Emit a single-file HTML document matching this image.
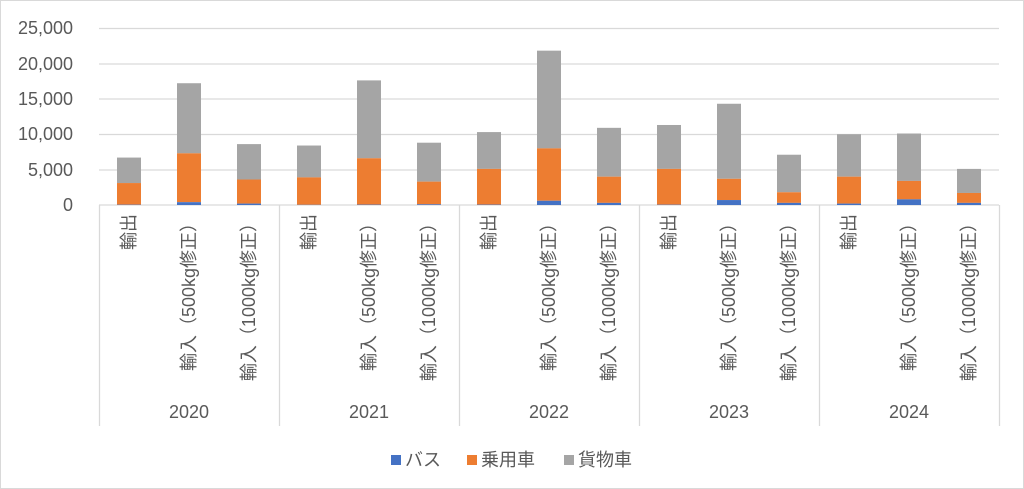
<!DOCTYPE html>
<html><head><meta charset="utf-8"><style>
body{margin:0;background:#fff;}
#c{position:relative;width:1024px;height:489px;border:1px solid #d9d9d9;box-sizing:border-box;overflow:hidden;font-family:"Liberation Sans","Noto Sans CJK JP",sans-serif;color:#595959;}
.yl{position:absolute;right:950px;font-size:18px;line-height:20px;text-align:right;}
.yr{position:absolute;top:401px;font-size:18px;width:180px;text-align:center;}
.lg{position:absolute;top:445px;font-size:18px;}
.sw{display:inline-block;width:10px;height:10px;margin-right:4px;vertical-align:1px;}
svg text{font-family:"Liberation Sans","Noto Sans CJK JP",sans-serif;fill:#595959;font-size:18px;}
</style></head><body><div id="c">
<svg width="1024" height="489" style="position:absolute;left:0;top:0">
<g stroke="#d9d9d9" stroke-width="1.3">
<line x1="98" x2="998" y1="27.5" y2="27.5"/><line x1="98" x2="998" y1="63" y2="63"/><line x1="98" x2="998" y1="98" y2="98"/><line x1="98" x2="998" y1="133.5" y2="133.5"/><line x1="98" x2="998" y1="169" y2="169"/><line x1="98" x2="998" y1="204" y2="204"/>
<line x1="98.5" x2="98.5" y1="204" y2="425"/><line x1="278.5" x2="278.5" y1="204" y2="425"/><line x1="458.5" x2="458.5" y1="204" y2="425"/><line x1="638.5" x2="638.5" y1="204" y2="425"/><line x1="818.5" x2="818.5" y1="204" y2="425"/><line x1="998.5" x2="998.5" y1="204" y2="425"/>
</g>
<g id="bars"></g>
<g id="labels"></g>
</svg>
<div class="yl" style="top:17px">25,000</div>
<div class="yl" style="top:53px">20,000</div>
<div class="yl" style="top:88px">15,000</div>
<div class="yl" style="top:123px">10,000</div>
<div class="yl" style="top:159px">5,000</div>
<div class="yl" style="top:194px">0</div>
<div class="yr" style="left:98px">2020</div>
<div class="yr" style="left:278px">2021</div>
<div class="yr" style="left:458px">2022</div>
<div class="yr" style="left:638px">2023</div>
<div class="yr" style="left:818px">2024</div>
<div class="lg" style="left:390px"><span class="sw" style="background:#4472c4"></span>バス</div>
<div class="lg" style="left:466px"><span class="sw" style="background:#ed7d31"></span>乗用車</div>
<div class="lg" style="left:563px"><span class="sw" style="background:#a5a5a5"></span>貨物車</div>
</div>
<script>
var d=[[50,3100,6700],[400,7300,17200],[200,3600,8600],[30,3900,8400],[60,6600,17600],[100,3300,8800],[60,5100,10300],[600,8000,21800],[300,4000,10900],[50,5100,11300],[700,3700,14300],[300,1800,7100],[200,4000,10000],[800,3400,10100],[300,1700,5100]];
var k=177/25000,s="",L="";
var names=["輸出","輸入（500kg修正）","輸入（1000kg修正）"];
d.forEach(function(v,i){var x=116+i*60;
var yb=204-v[0]*k,yo=204-v[1]*k,yt=204-v[2]*k;
s+='<rect x="'+x+'" y="'+yt+'" width="24" height="'+(yo-yt)+'" fill="#a5a5a5"/>';
s+='<rect x="'+x+'" y="'+yo+'" width="24" height="'+(yb-yo)+'" fill="#ed7d31"/>';
s+='<rect x="'+x+'" y="'+yb+'" width="24" height="'+(204-yb)+'" fill="#4472c4"/>';
var cx=x+12+6;
L+='<text transform="translate('+cx+',213) rotate(-90)" text-anchor="end">'+names[i%3]+'</text>';});
document.getElementById("bars").innerHTML=s;
document.getElementById("labels").innerHTML=L;
</script>
</body></html>
